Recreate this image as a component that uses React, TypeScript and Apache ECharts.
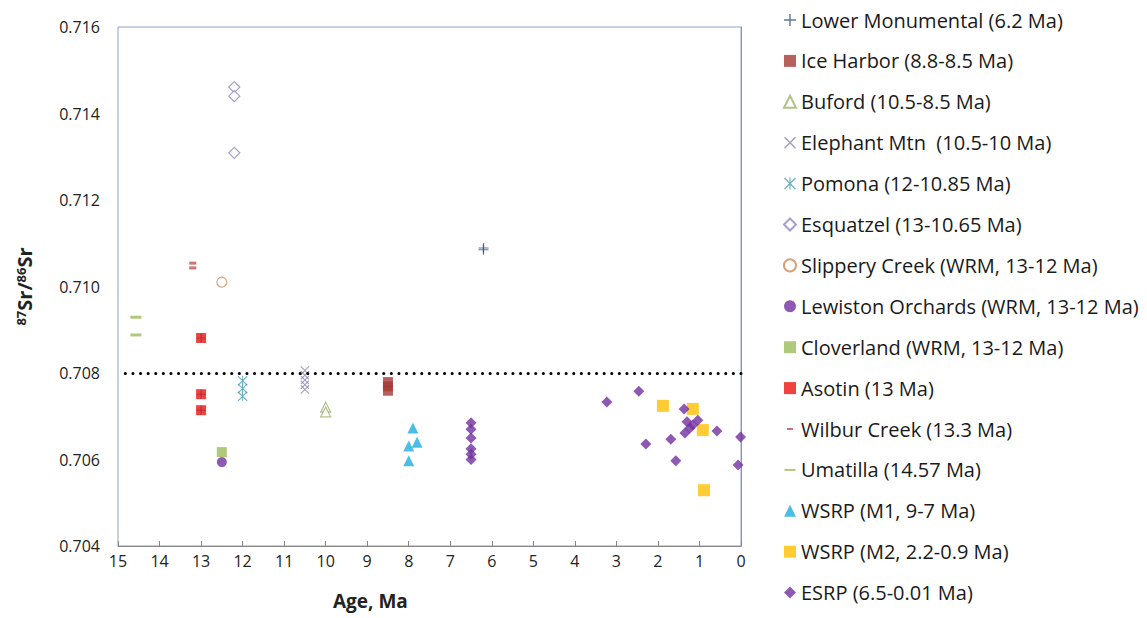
import React, { useEffect, useRef } from "react";
import * as echarts from "echarts";

// ---- Data (age in Ma, 87Sr/86Sr) ----
const lowerMonumentalAge = [6.2, 6.2];
const lowerMonumentalSr = [0.71085, 0.71089];
const iceHarborAge = [8.5, 8.5, 8.5];
const iceHarborSr = [0.70779, 0.70769, 0.70759];
const bufordAge = [10, 10];
const bufordSr = [0.70721, 0.7071];
const elephantAge = [10.5, 10.5, 10.5, 10.5, 10.5];
const elephantSr = [0.70806, 0.70795, 0.70784, 0.70773, 0.70762];
const pomonaAge = [12, 12, 12];
const pomonaSr = [0.70782, 0.70764, 0.70746];
const esquatzelAge = [12.2, 12.2, 12.2];
const esquatzelSr = [0.71461, 0.7144, 0.71309];
const slipperyAge = [12.5];
const slipperySr = [0.7101];
const lewistonAge = [12.5];
const lewistonSr = [0.70594];
const cloverlandAge = [12.5];
const cloverlandSr = [0.70617];
const asotinAge = [13, 13, 13];
const asotinSr = [0.70881, 0.70751, 0.70714];
const wilburAge = [13.2, 13.2];
const wilburSr = [0.71054, 0.71043];
const umatillaAge = [14.57, 14.57];
const umatillaSr = [0.70929, 0.70888];
const wsrpM1Age = [7.9, 7.8, 8.0, 8.0];
const wsrpM1Sr = [0.70673, 0.7064, 0.70631, 0.70597];
const wsrpM2Age = [1.88, 1.16, 0.92, 0.89];
const wsrpM2Sr = [0.70724, 0.70717, 0.70668, 0.70529];
const esrpAge = [6.5, 6.5, 6.5, 6.5, 6.5, 6.5, 3.23, 2.46, 2.29, 1.69, 1.57, 1.37, 1.3, 1.23, 1.35, 1.16, 1.04, 0.58, 0.01, 0.07];
const esrpSr = [0.70685, 0.7067, 0.7065, 0.70625, 0.70612, 0.706, 0.70733, 0.70758, 0.70636, 0.70647, 0.70597, 0.70717, 0.70687, 0.70673, 0.70661, 0.7068, 0.70691, 0.70666, 0.70652, 0.70587];

const referenceLine = 0.708;
const xTicks = { min: 0, max: 15, interval: 1 };
const yTicks = { min: 0.704, max: 0.716, interval: 0.002 };

const PLUS = "path://M44,0H56V44H100V56H56V100H44V56H0V44H44Z";
const CROSS = "path://M0,8L8,0L50,42L92,0L100,8L58,50L100,92L92,100L50,58L8,100L0,92L42,50Z";
const ASTER = "path://M0,8L8,0L50,42L92,0L100,8L58,50L100,92L92,100L50,58L8,100L0,92L42,50Z M45,0H55V100H45Z";
const DASH_LONG = "path://M0,0L0,0 M0.5,5H11.5V7H0.5Z M12,12L12,12";
const DASH_SHORT = "path://M0,0L0,0 M3,5H9V7H3Z M12,12L12,12";

const pts = (a: number[], b: number[]) => a.map((x, i) => [x, b[i]]);

export default function App() {
  const ref = useRef<HTMLDivElement>(null);
  useEffect(() => {
    if (!ref.current) return;
    const chart = echarts.init(ref.current, null, { renderer: "svg" });
    const font = "Open Sans";
    const mk = (name: string, data: number[][], symbol: string, size: any, itemStyle: any, extra: any = {}) => ({
      type: "scatter",
      name,
      data,
      symbol,
      symbolSize: size,
      itemStyle,
      ...extra,
    });
    const series: any[] = [
      mk("Lower Monumental (6.2 Ma)", pts(lowerMonumentalAge, lowerMonumentalSr), PLUS, 10, { color: "#34548a" }),
      mk("Ice Harbor (8.8-8.5 Ma)", pts(iceHarborAge, iceHarborSr), "rect", 10, { color: "#a33b36" }),
      mk("Buford (10.5-8.5 Ma)", pts(bufordAge, bufordSr), "triangle", 10, { color: "#ffffff", borderColor: "#9fb070", borderWidth: 1.2 }),
      mk("Elephant Mtn  (10.5-10 Ma)", pts(elephantAge, elephantSr), CROSS, 9, { color: "#8b84a8" }),
      mk("Pomona (12-10.85 Ma)", pts(pomonaAge, pomonaSr), ASTER, 10, { color: "#4a9db2" }),
      mk("Esquatzel (13-10.65 Ma)", pts(esquatzelAge, esquatzelSr), "diamond", 11, { color: "#ffffff", borderColor: "#9088bb", borderWidth: 1.2 }),
      mk("Slippery Creek (WRM, 13-12 Ma)", pts(slipperyAge, slipperySr), "circle", 10, { color: "#ffffff", borderColor: "#cc8a5c", borderWidth: 1.2 }),
      mk("Lewiston Orchards (WRM, 13-12 Ma)", pts(lewistonAge, lewistonSr), "circle", 10, { color: "#7030a0" }),
      mk("Cloverland (WRM, 13-12 Ma)", pts(cloverlandAge, cloverlandSr), "rect", 10, { color: "#9bbb59" }),
      mk("Asotin (13 Ma)", pts(asotinAge, asotinSr), "rect", 10, { color: "#ee1111" }),
      mk("Asotin cross", pts(asotinAge, asotinSr), PLUS, 9, { color: "rgba(130,40,40,0.75)" }),
      mk("Wilbur Creek (13.3 Ma)", pts(wilburAge, wilburSr), "rect", [7, 3], { color: "#c0504d" }),
      mk("Umatilla (14.57 Ma)", pts(umatillaAge, umatillaSr), "rect", [11, 3], { color: "#9bbb59" }),
      mk("WSRP (M1, 9-7 Ma)", pts(wsrpM1Age, wsrpM1Sr), "triangle", 11, { color: "#1faee0" }),
      mk("WSRP (M2, 2.2-0.9 Ma)", pts(wsrpM2Age, wsrpM2Sr), "rect", 12, { color: "#ffc000" }),
      mk("ESRP (6.5-0.01 Ma)", pts(esrpAge, esrpSr), "diamond", 11, { color: "#7030a0" }, {
        markLine: {
          silent: true,
          symbol: "none",
          precision: 4,
          label: { show: false },
          lineStyle: { color: "#000", width: 3, type: [0.1, 7.5], cap: "round" },
          data: [{ yAxis: referenceLine }],
        },
      }),
    ];
    const legendData = series
      .map((s) => s.name)
      .filter((n) => n !== "Asotin cross")
      .map((n) => {
        if (n.startsWith("Wilbur")) return { name: n, icon: DASH_SHORT };
        if (n.startsWith("Umatilla")) return { name: n, icon: DASH_LONG };
        return { name: n };
      });
    chart.setOption({
      animation: false,
      grid: {
        left: 118,
        right: 1147 - 741,
        top: 27,
        bottom: 618 - 546,
        show: true,
        borderColor: "#8ea3c2",
        borderWidth: 1,
      },
      legend: {
        orient: "vertical",
        left: 778,
        top: 5,
        itemWidth: 12,
        itemHeight: 12,
        itemGap: 20.9,
        data: legendData,
        textStyle: { fontFamily: font, fontSize: 20, color: "#1a1a1a", lineHeight: 20 },
      },
      xAxis: {
        type: "value",
        inverse: true,
        min: xTicks.min,
        max: xTicks.max,
        interval: xTicks.interval,
        splitLine: { show: false },
        axisLine: { show: true, lineStyle: { color: "#868686" } },
        axisTick: { show: true, inside: true, length: 5, lineStyle: { color: "#868686" } },
        axisLabel: { fontFamily: font, fontSize: 16, color: "#222", margin: 7 },
      },
      yAxis: {
        type: "value",
        min: yTicks.min,
        max: yTicks.max,
        interval: yTicks.interval,
        splitLine: { show: false },
        axisLine: { show: true, lineStyle: { color: "#7f97bd" } },
        axisTick: { show: false },
        axisLabel: { fontFamily: font, fontSize: 16, color: "#222", margin: 18, formatter: (v: number) => v.toFixed(3) },
        name: "{sup|87}{b|Sr/}{sup|86}{b|Sr}",
        nameLocation: "middle",
        nameRotate: 90,
        nameGap: 83,
        nameTextStyle: {
          fontFamily: font,
          rich: {
            b: { fontFamily: font, fontSize: 20, fontWeight: "bold", color: "#222" },
            sup: { fontFamily: font, fontSize: 13, fontWeight: "bold", color: "#222", verticalAlign: "top", padding: [0, 0, 8, 0] },
          },
        },
      },
      graphic: [
        {
          type: "text",
          left: 373 - 40,
          top: 591,
          style: { text: "Age, Ma", fontFamily: font, fontSize: 19, fontWeight: "bold", fill: "#222" },
        },
      ],
      series,
    });
    return () => chart.dispose();
  }, []);
  return <div ref={ref} style={{ width: 1147, height: 618, position: "absolute", left: 0, top: 0 }} />;
}
